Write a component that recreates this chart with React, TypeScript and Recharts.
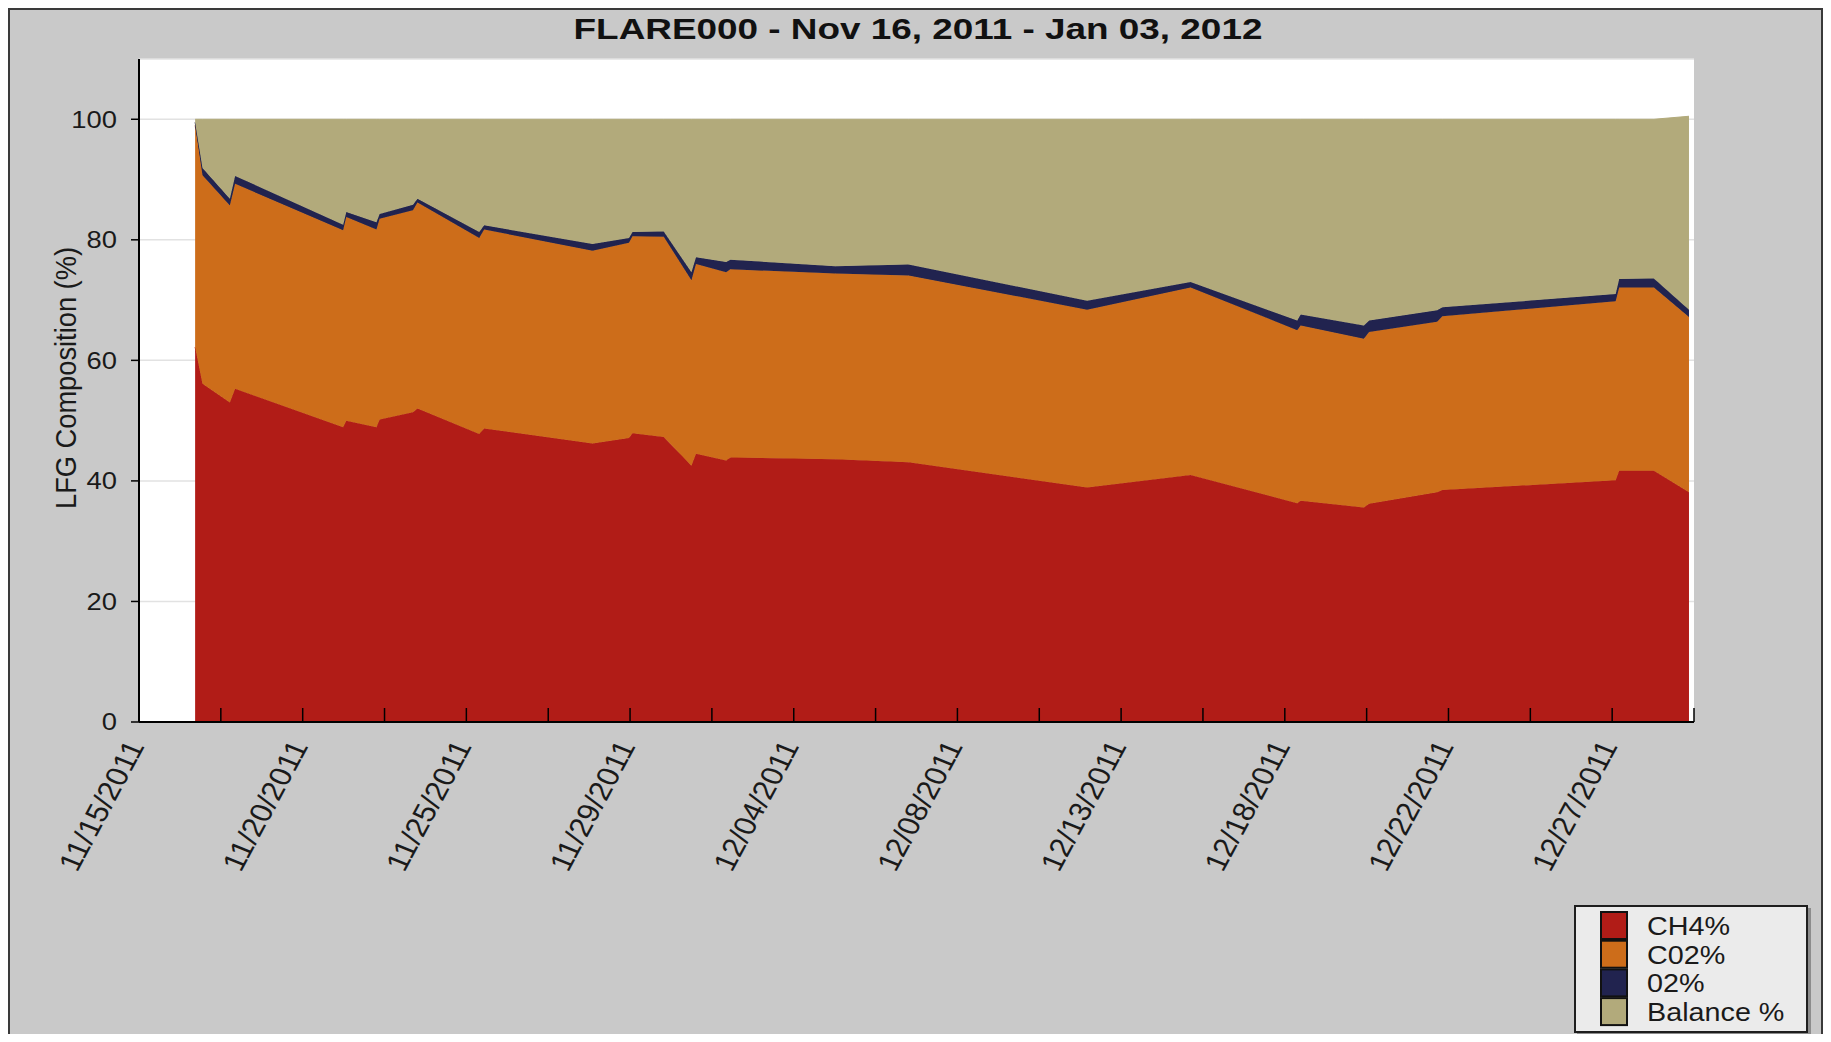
import React from "react";
import { AreaChart, Area, XAxis, YAxis, CartesianGrid, Legend } from "recharts";

const TITLE = "FLARE000 - Nov 16, 2011 - Jan 03, 2012";
const Y_LABEL = "LFG Composition (%)";

// x = days after 11/15/2011 00:00 (axis origin)
const DAYS = [1.6, 1.81, 2.59, 2.74, 5.82, 5.91, 6.77, 6.86, 7.81, 7.94, 9.7, 9.84, 12.93, 13.97, 14.07, 14.96, 15.75, 15.88, 16.74, 16.86, 19.85, 21.94, 27.03, 29.98, 33.02, 33.12, 34.92, 35.07, 37.01, 37.16, 42.1, 42.2, 43.19, 44.19];
const CH4 = [62.2, 56.1, 53.0, 55.3, 48.9, 50.0, 48.9, 50.2, 51.4, 52.0, 47.8, 48.7, 46.2, 47.1, 47.9, 47.3, 42.5, 44.5, 43.4, 43.9, 43.6, 43.1, 38.9, 41.0, 36.3, 36.7, 35.6, 36.2, 38.1, 38.5, 40.1, 41.7, 41.7, 38.1];
const CO2 = [36.8, 34.6, 32.7, 34.0, 32.7, 33.8, 32.8, 33.3, 33.5, 34.2, 32.5, 33.0, 32.0, 32.4, 32.7, 33.2, 30.8, 31.5, 31.2, 31.2, 30.8, 31.0, 29.5, 31.1, 28.7, 29.1, 28.0, 28.5, 28.3, 28.8, 29.7, 30.4, 30.4, 29.1];
const O2 = [0.5, 1.2, 1.1, 1.3, 0.9, 0.8, 1.2, 0.8, 0.9, 0.6, 1.0, 0.7, 1.1, 0.8, 0.7, 0.9, 1.3, 1.1, 1.7, 1.6, 1.2, 1.8, 1.5, 0.9, 1.6, 1.8, 2.2, 1.9, 1.9, 1.5, 1.2, 1.4, 1.5, 1.2];
const BALANCE = [0.5, 8.1, 13.2, 9.4, 17.5, 15.4, 17.1, 15.7, 14.2, 13.2, 18.7, 17.6, 20.7, 19.7, 18.7, 18.6, 25.4, 22.9, 23.7, 23.3, 24.4, 24.1, 30.1, 27.0, 33.4, 32.4, 34.2, 33.4, 31.7, 31.2, 29.0, 26.5, 26.4, 32.1];

const X_TICKS = [0, 2.333, 4.667, 7, 9.333, 11.667, 14, 16.333, 18.667, 21, 23.333, 25.667, 28, 30.333, 32.667, 35, 37.333, 39.667, 42, 44.333];
const X_TICK_LABELS = ["11/15/2011", "", "11/20/2011", "", "11/25/2011", "", "11/29/2011", "", "12/04/2011", "", "12/08/2011", "", "12/13/2011", "", "12/18/2011", "", "12/22/2011", "", "12/27/2011", ""];
const Y_TICKS = [0, 20, 40, 60, 80, 100];

const SERIES = [
  { key: "ch4", name: "CH4%", color: "#B11C17" },
  { key: "co2", name: "C02%", color: "#CD6D1A" },
  { key: "o2", name: "02%", color: "#21234F" },
  { key: "balance", name: "Balance %", color: "#B2AA7B" },
];

const data = DAYS.map((d, i) => ({ day: d, ch4: CH4[i], co2: CO2[i], o2: O2[i], balance: BALANCE[i] }));

const FONT = "'Liberation Sans', Arial, Helvetica, sans-serif";
const W = 1815;
const H = 1026;

const XTick = (props: any) => {
  const { x, y, index } = props;
  const label = X_TICK_LABELS[index] || "";
  return (
    <g>
      <line x1={x} x2={x} y1={y} y2={y - 14} stroke="#000" strokeWidth={1.5} />
      {label ? (
        <text
          transform={`translate(${x + 6},${y + 24}) scale(1.15,1) rotate(-65)`}
          textAnchor="end"
          fontSize={27}
          textLength={140}
          lengthAdjust="spacingAndGlyphs"
          fontFamily={FONT}
          fill="#1a1a1a"
        >
          {label}
        </text>
      ) : null}
    </g>
  );
};

const YTick = (props: any) => {
  const { x, y, payload } = props;
  return (
    <text
      transform={`translate(${x},${y}) scale(1.14,1)`}
      textAnchor="end"
      dominantBaseline="central"
      fontSize={24}
      fontFamily={FONT}
      fill="#1a1a1a"
    >
      {payload.value}
    </text>
  );
};

const YLabel = () => (
  <text
    transform={`translate(57,370) scale(1.12,1) rotate(-90)`}
    textAnchor="middle"
    dominantBaseline="central"
    fontSize={27}
    textLength={262}
    lengthAdjust="spacingAndGlyphs"
    fontFamily={FONT}
    fill="#1a1a1a"
  >
    {Y_LABEL}
  </text>
);

const LegendBox = () => (
  <div
    style={{
      width: 234,
      height: 128,
      boxSizing: "border-box",
      background: "#ebebeb",
      border: "2px solid #1e1e1e",
      boxShadow: "3px 3px 0 #8c8c8c",
      position: "relative",
    }}
  >
    <svg width={230} height={124} style={{ position: "absolute", left: 0, top: 0 }}>
      {SERIES.map((s, i) => (
        <g key={s.key}>
          <rect x={25} y={5 + i * 28.7} width={26} height={27} fill={s.color} stroke="#111" strokeWidth={2} />
          <text
            transform={`translate(71,${28 + i * 28.5}) scale(1.15,1)`}
            fontSize={25}
            fontFamily={FONT}
            fill="#1a1a1a"
          >
            {s.name}
          </text>
        </g>
      ))}
    </svg>
  </div>
);

export default function App() {
  return (
    <div style={{ position: "relative", width: W, height: H, background: "#C9C9C9", overflow: "hidden" }}>
      <div style={{ position: "absolute", left: 0, top: 0 }}>
        <AreaChart
          width={W}
          height={H}
          data={data}
          margin={{ top: 51, right: 129, bottom: 0, left: 0 }}
        >
          <CartesianGrid horizontal={true} vertical={false} fill="#ffffff" stroke="#e2e2e2" strokeWidth={1.5} />
          <XAxis
            dataKey="day"
            type="number"
            domain={[0, 44.333]}
            ticks={X_TICKS}
            interval={0}
            height={312}
            tickSize={0}
            tickMargin={0}
            tickLine={false}
            axisLine={{ stroke: "#000", strokeWidth: 2 }}
            tick={<XTick />}
            allowDataOverflow={true}
          />
          <YAxis
            type="number"
            domain={[0, 110]}
            ticks={Y_TICKS}
            interval={0}
            width={131}
            tickSize={8}
            tickMargin={14}
            tickLine={{ stroke: "#000", strokeWidth: 1.5 }}
            axisLine={{ stroke: "#000", strokeWidth: 2 }}
            tick={<YTick />}
            label={<YLabel />}
            allowDataOverflow={true}
          />
          {SERIES.map((s) => (
            <Area
              key={s.key}
              type="linear"
              dataKey={s.key}
              name={s.name}
              stackId="stack"
              fill={s.color}
              fillOpacity={1}
              stroke={s.color}
              strokeWidth={1}
              dot={false}
              activeDot={false}
              isAnimationActive={false}
            />
          ))}
          <Legend
            layout="vertical"
            align="center"
            verticalAlign="middle"
            wrapperStyle={{ left: 1566, top: 897, width: 234, height: 128 }}
            content={() => <LegendBox />}
          />
        </AreaChart>
      </div>
      <svg width={W} height={50} style={{ position: "absolute", left: 0, top: 0 }}>
        <text
          transform={`translate(910,31) scale(1.23,1)`}
          textAnchor="middle"
          fontSize={30}
          fontWeight="bold"
          fontFamily={FONT}
          fill="#111"
        >
          {TITLE}
        </text>
      </svg>
      <div
        style={{
          position: "absolute",
          left: 0,
          top: 0,
          width: W,
          height: H,
          boxSizing: "border-box",
          borderLeft: "2px solid #3a3a3a",
          borderTop: "2px solid #3a3a3a",
          borderRight: "2px solid #3a3a3a",
          pointerEvents: "none",
        }}
      />
    </div>
  );
}
